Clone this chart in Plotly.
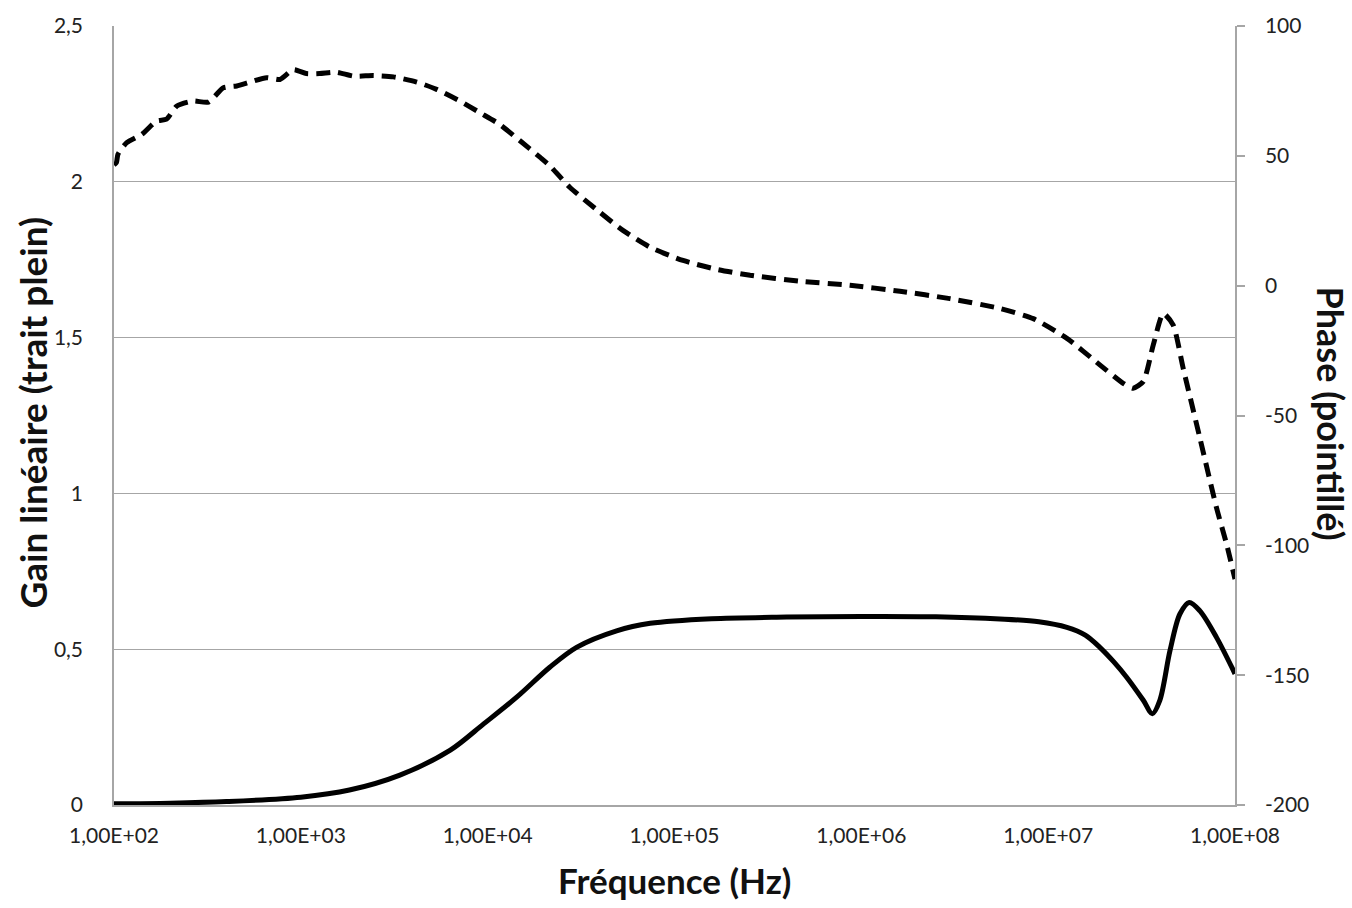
import plotly.graph_objects as go

# ---- Data ----
gain_freq = [1.00e2, 2.00e2, 4.00e2, 1.00e3, 1.82e3, 3.39e3, 6.31e3, 9.55e3, 1.43e4, 2.15e4,
             2.99e4, 4.90e4, 7.41e4, 1.58e5, 3.98e5, 1.00e6, 2.51e6, 5.52e6, 8.91e6, 1.26e7,
             1.58e7, 1.89e7, 2.24e7, 2.63e7, 3.23e7, 3.61e7, 3.96e7, 4.49e7, 5.07e7, 5.69e7,
             6.49e7, 7.96e7, 1.00e8]
gain = [0.004, 0.006, 0.011, 0.025, 0.048, 0.096, 0.176, 0.261, 0.346, 0.442,
        0.506, 0.559, 0.583, 0.598, 0.603, 0.605, 0.604, 0.597, 0.588, 0.570,
        0.545, 0.506, 0.460, 0.410, 0.336, 0.293, 0.336, 0.496, 0.613, 0.650,
        0.623, 0.538, 0.421]

phase_freq = [1.00e2, 1.03e2, 1.05e2, 1.17e2, 1.41e2, 1.69e2, 1.91e2, 2.17e2, 2.65e2, 3.20e2,
              3.85e2, 4.54e2, 5.35e2, 6.56e2, 7.73e2, 9.12e2, 1.07e3, 1.26e3, 1.55e3, 1.91e3,
              2.45e3, 3.13e3, 4.17e3, 5.33e3, 7.11e3, 9.10e3, 1.16e4, 1.49e4, 1.91e4, 2.15e4,
              2.75e4, 3.98e4, 5.32e4, 7.40e4, 1.11e5, 1.68e5, 2.54e5, 4.69e5, 8.69e5, 1.61e6,
              2.98e6, 5.52e6, 8.32e6, 1.26e7, 1.89e7, 2.52e7, 2.85e7, 3.23e7, 3.65e7, 4.13e7,
              4.67e7, 5.28e7, 6.49e7, 7.96e7, 9.02e7, 1.00e8]
phase = [46.5, 47.4, 50.6, 55.1, 58.3, 63.4, 64.1, 69.2, 71.1, 70.7,
         76.2, 76.9, 78.4, 80.1, 79.4, 83.2, 81.7, 81.7, 82.2, 80.7,
         80.9, 80.4, 78.4, 75.6, 71.1, 66.6, 62.1, 55.8, 49.4, 46.2,
         37.9, 28.3, 21.2, 14.8, 9.7, 6.3, 4.0, 1.7, 0.15, -2.15,
         -5.0, -8.8, -12.7, -20.3, -30.5, -37.6, -39.5, -36.9, -22.9, -10.7,
         -15.2, -31.8, -58.7, -85.5, -99.6, -113.0]

x_tickvals = [1e2, 1e3, 1e4, 1e5, 1e6, 1e7, 1e8]
x_ticktext = ["1,00E+02", "1,00E+03", "1,00E+04", "1,00E+05", "1,00E+06", "1,00E+07", "1,00E+08"]
y1_tickvals = [0, 0.5, 1, 1.5, 2, 2.5]
y1_ticktext = ["0", "0,5", "1", "1,5", "2", "2,5"]
y2_tickvals = [-200, -150, -100, -50, 0, 50, 100]
y2_ticktext = ["-200", "-150", "-100", "-50", "0", "50", "100"]

FONT = "Lato"
GRID = "#a6a6a6"
TITLE_SIZE = 37

fig = go.Figure()
fig.add_trace(go.Scatter(x=gain_freq, y=gain, mode="lines", name="Gain",
                         line=dict(color="black", width=5, shape="spline", smoothing=0.9),
                         yaxis="y"))
fig.add_trace(go.Scatter(x=phase_freq, y=phase, mode="lines", name="Phase",
                         line=dict(color="black", width=5, dash="14px,8px", shape="spline", smoothing=0.6),
                         yaxis="y2"))

fig.update_layout(
    width=1352, height=908,
    margin=dict(l=114, r=117, t=21, b=103),
    paper_bgcolor="white", plot_bgcolor="white",
    showlegend=False,
    font=dict(family=FONT, size=21, color="#222"),
    xaxis=dict(type="log", range=[2, 8], tickvals=x_tickvals, ticktext=x_ticktext,
               showgrid=False, showline=True, linecolor=GRID, linewidth=1.5,
               ticks="", ticklabelstandoff=11, zeroline=False),
    yaxis=dict(range=[0, 2.5], tickvals=y1_tickvals, ticktext=y1_ticktext,
               showgrid=True, gridcolor=GRID, gridwidth=1.2,
               showline=True, linecolor=GRID, linewidth=1.5, ticks="",
               ticklabelstandoff=25, zeroline=False),
    yaxis2=dict(range=[-200, 100], tickvals=y2_tickvals, ticktext=y2_ticktext,
                overlaying="y", side="right", showgrid=False, zeroline=False,
                showline=True, linecolor=GRID, linewidth=1.5,
                ticks="outside", ticklen=8, tickcolor=GRID, tickwidth=1.5,
                ticklabelstandoff=16),
    annotations=[
        dict(text="<b>Gain linéaire (trait plein)</b>", xref="paper", yref="paper",
             x=-0.073, y=0.504, xanchor="center", yanchor="middle", textangle=-90,
             showarrow=False, font=dict(size=TITLE_SIZE, color="#111", family=FONT)),
        dict(text="<b>Phase (pointillé)</b>", xref="paper", yref="paper",
             x=1.086, y=0.502, xanchor="center", yanchor="middle", textangle=90,
             showarrow=False, font=dict(size=TITLE_SIZE - 1, color="#111", family=FONT)),
        dict(text="<b>Fréquence (Hz)</b>", xref="paper", yref="paper",
             x=0.5, y=-0.096, xanchor="center", yanchor="middle",
             showarrow=False, font=dict(size=TITLE_SIZE - 2, color="#111", family=FONT)),
    ],
)

fig.write_html("out.html", config={"displayModeBar": False},
               post_script="document.body.style.margin='0';")
